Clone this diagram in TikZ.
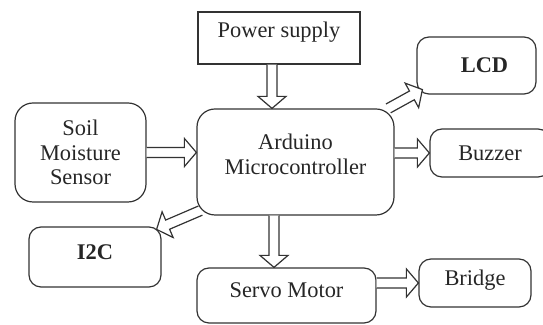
\documentclass[tikz,border=0pt]{standalone}
\usepackage{fontspec}
\setmainfont{Liberation Serif}
\usetikzlibrary{calc}

% hollow block arrow from #1 to #2
\newcommand\blkarrow[2]{%
  \coordinate (ab) at ($(#2)!6pt!(#1)$);
  \draw[blockarr] ($(#1)!2.5pt!-90:(#2)$) -- ($(ab)!2.5pt!90:(#1)$) -- ($(ab)!7pt!90:(#1)$) -- (#2)
    -- ($(ab)!7pt!-90:(#1)$) -- ($(ab)!2.5pt!-90:(#1)$) -- ($(#1)!2.5pt!90:(#2)$);}

\begin{document}
\begin{tikzpicture}[x=0.5pt,y=-0.5pt]
                \tikzset{block/.style = {shape=rectangle,draw=black!80,line width=0.6pt,rounded corners=6pt,
                                         align=center,text=black!85,font=\fontsize{11.2}{12.3}\selectfont}}
                \tikzset{bigblock/.style = {block,rounded corners=9pt}}
                \tikzset{blockarr/.style = {draw=black!80,line width=0.6pt,fill=white,line join=miter}}

                \useasboundingbox (0,0) rectangle (543,325);

                \node[block,rounded corners=0pt,minimum width=81pt,minimum height=26pt,text depth=8.4pt] (pow) at (279,38) {Power supply};
                \node[bigblock,minimum width=98.5pt,minimum height=53pt,text depth=8pt] (ard) at (295.5,162) {Arduino\\Microcontroller};
                \node[bigblock,minimum width=65.5pt,minimum height=49.5pt] (soil) at (80.5,152.5) {Soil\\Moisture\\Sensor};
                \node[block,minimum width=59.5pt,minimum height=28.5pt] (lcd) at (476.5,65.5) {\hspace*{8pt}\textbf{LCD}};
                \node[block,minimum width=60pt,minimum height=24pt] (buz) at (490,153) {Buzzer};
                \node[block,minimum width=66pt,minimum height=30pt,text depth=5pt] (i2c) at (95,257) {\textbf{I2C}};
                \node[block,minimum width=89.5pt,minimum height=27.5pt,text depth=5.5pt] (servo) at (286.5,295.5) {Servo Motor};
                \node[block,minimum width=56pt,minimum height=24pt,text depth=5.4pt] (bridge) at (475,283) {Bridge};

                \coordinate (p1) at ($(pow.south)+(-7,0)$);
                \coordinate (a1) at ($(ard.south)+(-21.5,0)$);
                \coordinate (a2) at ($(ard.south west)+(4,-5)$);
                \coordinate (l1) at ($(lcd.south west)+(6,-5)$);
                \coordinate (c1) at ($(i2c.north east)+(-5,3)$);

                \blkarrow{p1}{p1 |- ard.north}
                \blkarrow{soil.east}{soil.east -| ard.west}
                \blkarrow{buz.west -| ard.east}{buz.west}
                \blkarrow{ard.30}{l1}
                \blkarrow{a2}{c1}
                \blkarrow{a1}{a1 |- servo.north}
                \blkarrow{servo.east |- bridge.west}{bridge.west}

        \end{tikzpicture}
\end{document}
